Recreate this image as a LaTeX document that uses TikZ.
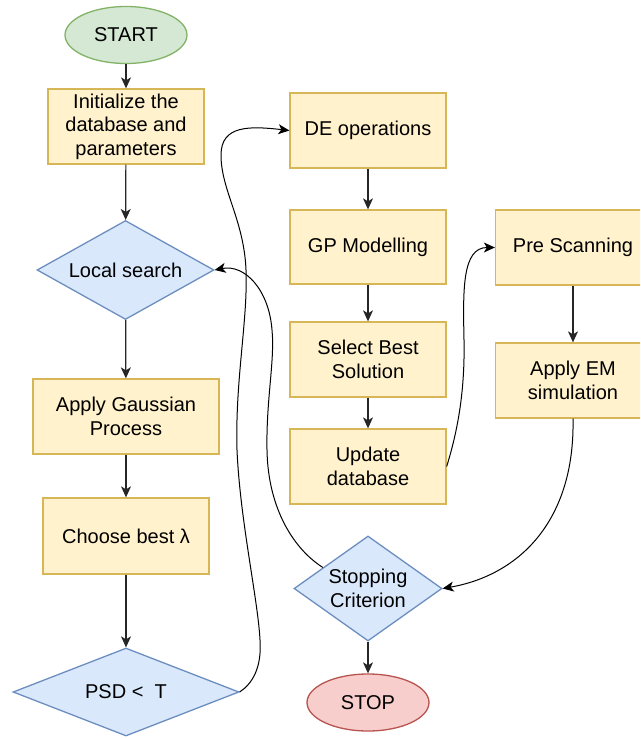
\documentclass[tikz,border=0pt]{standalone}
\usepackage{fontspec}
\setmainfont{Liberation Sans}
\usetikzlibrary{shapes.geometric,arrows.meta}
\definecolor{yfill}{HTML}{FFF2CC}
\definecolor{ydraw}{HTML}{D6B656}
\definecolor{bfill}{HTML}{DAE8FC}
\definecolor{bdraw}{HTML}{6C8EBF}
\definecolor{gfill}{HTML}{D5E8D4}
\definecolor{gdraw}{HTML}{82B366}
\definecolor{rfill}{HTML}{F8CECC}
\definecolor{rdraw}{HTML}{B85450}
\definecolor{lineclr}{HTML}{262626}
\tikzset{
  every node/.style={font=\fontsize{20}{23.5}\selectfont, text=black},
  procbox/.style={rectangle, fill=yfill, draw=ydraw, line width=1.3pt, inner sep=0pt, align=center, minimum width=156pt, minimum height=75pt},
  decbox/.style={diamond, fill=bfill, draw=bdraw, line width=1.3pt, inner sep=0pt},
  termgreen/.style={ellipse, fill=gfill, draw=gdraw, line width=1.3pt, inner sep=0pt, minimum width=122pt, minimum height=57pt},
  termred/.style={ellipse, fill=rfill, draw=rdraw, line width=1.3pt, inner sep=0pt, minimum width=122pt, minimum height=57pt},
  arr/.style={-{Stealth[length=11pt,width=10pt,inset=3pt]}, line width=1.2pt, draw=lineclr},
  carr/.style={-{Stealth[length=11pt,width=10pt,inset=3pt]}, line width=1pt, draw=black},
}
\begin{document}
\begin{tikzpicture}[x=1pt,y=-1pt]
\useasboundingbox (0,0) rectangle (640,738);
\clip (0,0) rectangle (640,738);
% left column
\node[termgreen] (start) at (126,35) {START};
\node[procbox] (init) at (126,126.5) {Initialize the\\database and\\parameters};
\node[decbox, minimum width=177pt, minimum height=99pt, label={[align=center]center:Local search}] (local) at (125.5,270) {};
\node[procbox, minimum width=186pt] (gauss) at (126,416.5) {Apply Gaussian\\Process};
\node[procbox, minimum width=166pt, minimum height=76pt] (choose) at (126,536) {Choose best λ};
\node[decbox, minimum width=226pt, minimum height=88pt, label={[align=center]center:PSD <\ \ T}] (psd) at (126,692) {};
% middle column
\node[procbox] (de) at (368,130.5) {DE operations};
\node[procbox, minimum height=74pt] (gp) at (368,247) {GP Modelling};
\node[procbox] (sel) at (368,359.5) {Select Best\\Solution};
\node[procbox] (upd) at (368,466.5) {Update\\database};
\node[decbox, minimum width=148pt, minimum height=105pt, label={[align=center]center:Stopping\\Criterion}] (stopc) at (368,588.5) {};
\node[termred] (stop) at (368,702.5) {STOP};
% right column
\node[procbox, minimum width=155pt] (pre) at (573,247.5) {Pre Scanning};
\node[procbox, minimum width=155pt] (em) at (573,380.5) {Apply EM\\simulation};
% straight connectors
\draw[arr] (start) -- (init);
\draw[arr] (init) -- (local);
\draw[arr] (local) -- (gauss);
\draw[arr] (gauss) -- (choose);
\draw[arr] (choose) -- (psd);
\draw[arr] (de) -- (gp);
\draw[arr] (gp) -- (sel);
\draw[arr] (sel) -- (upd);
\draw[arr] (pre) -- (em);
\draw[arr] (stopc) -- (stop);
% curved connectors
\draw[carr] (psd.east)
  .. controls (252,684) and (262,668) .. (260,640)
  .. controls (258,600) and (240,520) .. (237,450)
  .. controls (235,380) and (248,320) .. (246,270)
  .. controls (244,220) and (221,190) .. (221,155)
  .. controls (221,125) and (250,126) .. (de.west);
\draw[carr] (stopc.155)
  .. controls (295,550) and (268,510) .. (267,450)
  .. controls (266,400) and (275,360) .. (272,330)
  .. controls (269,290) and (245,264) .. (local.east);
\draw[carr] (upd.east)
  .. controls (458,430) and (465,390) .. (464,340)
  .. controls (463,290) and (462,247.5) .. (pre.west);
\draw[carr] (em.south)
  .. controls (575,520) and (520,575) .. (stopc.east);
\end{tikzpicture}
\end{document}
